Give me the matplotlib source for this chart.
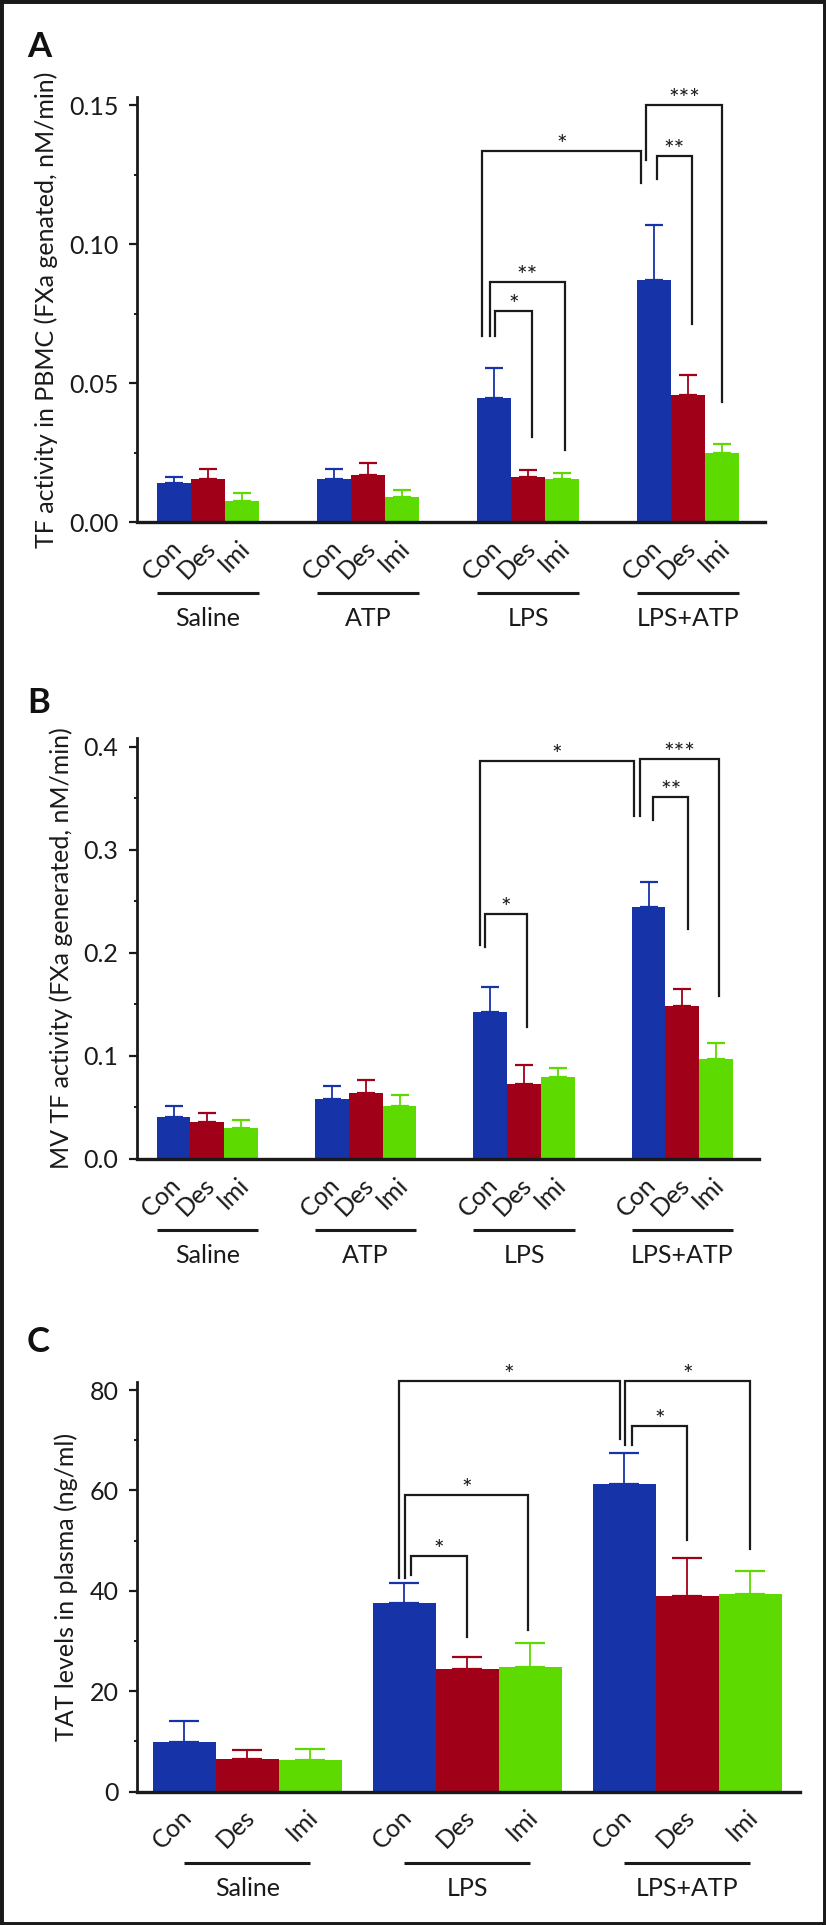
import numpy as np
import matplotlib.pyplot as plt
from matplotlib import transforms
from matplotlib.patches import Rectangle

plt.rcParams['font.family'] = ['Lato', 'DejaVu Sans']
plt.rcParams['text.color'] = '#1a1a1a'

# ---- data ----
treatments = ["Con", "Des", "Imi"]
bar_colors = ["#1634A8", "#A10019", "#5DDB00"]

groups_ab = ["Saline", "ATP", "LPS", "LPS+ATP"]
groups_c = ["Saline", "LPS", "LPS+ATP"]

# A: TF activity in PBMC (mean, upper SEM)
tf_mean = [[0.0141, 0.0153, 0.0077],
           [0.0156, 0.0170, 0.0089],
           [0.0447, 0.0162, 0.0154],
           [0.0871, 0.0457, 0.0249]]
tf_sem = [[0.0022, 0.0037, 0.0028],
          [0.0035, 0.0041, 0.0026],
          [0.0107, 0.0024, 0.0023],
          [0.0196, 0.0072, 0.0031]]

# B: MV TF activity
mv_mean = [[0.0405, 0.0362, 0.0304],
           [0.0579, 0.0641, 0.0515],
           [0.1430, 0.0728, 0.0799],
           [0.2450, 0.1485, 0.0974]]
mv_sem = [[0.0113, 0.0088, 0.0071],
          [0.0126, 0.0130, 0.0102],
          [0.0237, 0.0185, 0.0084],
          [0.0236, 0.0169, 0.0155]]

# C: TAT levels in plasma
tat_mean = [[9.9, 6.5, 6.2],
            [37.6, 24.4, 24.8],
            [61.3, 39.0, 39.4]]
tat_sem = [[4.15, 1.75, 2.25],
           [3.9, 2.4, 4.8],
           [6.1, 7.6, 4.5]]

# significance brackets: label, (group, bar, shift), y left end, (group, bar, shift), y right end, y top
sig_a = [("*",   (2, 0, 0.03), 0.0669, (2, 1, 0.11), 0.0305, 0.0759),
         ("**",  (2, 0, -0.12), 0.0669, (2, 2, 0.09), 0.0258, 0.0865),
         ("*",   (2, 0, -0.34), 0.0669, (3, 0, -0.38), 0.1220, 0.1336),
         ("**",  (3, 0, 0.08), 0.1234, (3, 1, 0.11), 0.0713, 0.1316),
         ("***", (3, 0, -0.24), 0.1304, (3, 2, 0.0), 0.0433, 0.1502)]
sig_b = [("*",   (2, 0, -0.15), 0.2060, (2, 1, 0.10), 0.1285, 0.2376),
         ("*",   (2, 0, -0.30), 0.2078, (3, 0, -0.44), 0.3333, 0.3867),
         ("***", (3, 0, -0.25), 0.3333, (3, 2, 0.07), 0.1586, 0.3883),
         ("**",  (3, 0, 0.13), 0.3291, (3, 1, 0.18), 0.2233, 0.3512)]
sig_c = [("*", (1, 0, 0.10), 43.1, (1, 1, 0.0), 30.8, 46.9),
         ("*", (1, 0, 0.02), 42.5, (1, 2, -0.03), 32.2, 59.1),
         ("*", (1, 0, -0.09), 42.5, (2, 0, -0.07), 70.2, 81.7),
         ("*", (2, 0, 0.02), 69.0, (2, 2, 0.0), 48.3, 81.7),
         ("*", (2, 0, 0.12), 69.0, (2, 1, 0.0), 50.1, 72.8)]

W, H = 826, 1925
fig = plt.figure(figsize=(W / 100, H / 100), dpi=100)
ink = '#1a1a1a'


def panel(rect, groups, means, sems, sigs, spacing, xlim, ylim, major, minor,
          ylabel, letter, letter_y, capsize, line_full):
    ax = fig.add_axes([rect[0] / W, 1 - rect[3] / H, (rect[2] - rect[0]) / W, (rect[3] - rect[1]) / H])
    centers = [g * spacing for g in range(len(groups))]
    for b in range(3):
        xs = [c + (b - 1) for c in centers]
        vals = [m[b] for m in means]
        errs = [s[b] for s in sems]
        ax.bar(xs, vals, width=1.0, color=bar_colors[b], edgecolor='none', zorder=2)
        ax.errorbar(xs, vals, yerr=[np.zeros(len(vals)), errs], fmt='none',
                    ecolor=bar_colors[b], elinewidth=1.3, capsize=capsize,
                    capthick=1.6, zorder=3)

    # brackets
    star_tr = transforms.offset_copy(ax.transData, fig=fig, y=-2, units='dots')
    for lab, (g1, b1, d1), y1, (g2, b2, d2), y2, top in sigs:
        x1 = centers[g1] + b1 - 1 + d1
        x2 = centers[g2] + b2 - 1 + d2
        ax.plot([x1, x1, x2, x2], [y1, top, top, y2], color=ink, lw=1.6,
                solid_joinstyle='miter', clip_on=False, zorder=4)
        ax.text((x1 + x2) / 2, top, lab, transform=star_tr, ha='center',
                va='baseline', fontsize=18, color=ink, clip_on=False)

    ax.set_xlim(*xlim)
    ax.set_ylim(*ylim)
    ax.set_xticks([])
    ax.set_yticks(major)
    ax.set_yticks(minor, minor=True)
    ax.tick_params(axis='y', which='major', length=5.8, width=1.6, pad=7.5,
                   labelsize=18, colors=ink)
    ax.tick_params(axis='y', which='minor', length=2.4, width=1.4, colors=ink)
    for s in ['top', 'right']:
        ax.spines[s].set_visible(False)
    ax.spines['left'].set_linewidth(2.0)
    ax.spines['bottom'].set_linewidth(2.4)
    ax.spines['left'].set_color(ink)
    ax.spines['bottom'].set_color(ink)
    ax.set_ylabel(ylabel, fontsize=18, labelpad=8, color=ink)

    cat_tr = transforms.offset_copy(ax.transData, fig=fig, x=4, y=-22, units='dots')
    line_tr = transforms.offset_copy(ax.transData, fig=fig, y=-71, units='dots')
    name_tr = transforms.offset_copy(ax.transData, fig=fig, y=-104, units='dots')
    for c, gname in zip(centers, groups):
        for b, t in enumerate(treatments):
            ax.text(c + (b - 1), 0, t, transform=cat_tr, rotation=45,
                    rotation_mode='anchor', ha='right', va='center',
                    fontsize=18, color=ink, clip_on=False)
        half = 1.5 if line_full else 1.0
        ax.plot([c - half, c + half], [0, 0], color=ink, lw=2.2,
                transform=line_tr, clip_on=False, solid_capstyle='butt')
        ax.text(c, 0, gname, transform=name_tr, ha='center', va='baseline',
                fontsize=18, color=ink, clip_on=False)

    fig.text(27 / W, 1 - letter_y / H, letter, fontsize=25, fontweight='bold',
             ha='left', va='baseline', color='#111111')
    return ax


panel((137, 97, 765, 522), groups_ab, tf_mean, tf_sem, sig_a, 4.68,
      (-2.08, 16.29), (0, 0.1529), [0, 0.05, 0.10, 0.15], [0.025, 0.075, 0.125],
      "TF activity in PBMC (FXa genated, nM/min)", "A", 57, 6.4, True)
ax_b = panel((137, 738, 758.5, 1159), groups_ab, mv_mean, mv_sem, sig_b, 4.68,
             (-2.08, 16.29), (0, 0.4087), [0, 0.1, 0.2, 0.3, 0.4],
             [0.05, 0.15, 0.25, 0.35],
             "MV TF activity (FXa generated, nM/min)", "B", 713, 6.4, True)
ax_b.yaxis.set_major_formatter(plt.FuncFormatter(lambda v, p: f"{v:.1f}"))
panel((137, 1382, 800, 1791.5), groups_c, tat_mean, tat_sem, sig_c, 3.49,
      (-1.75, 8.77), (0, 81.6), [0, 20, 40, 60, 80], [10, 30, 50, 70],
      "TAT levels in plasma (ng/ml)", "C", 1352, 11, False)

fig.add_artist(Rectangle((0, 0), 1, 1, transform=fig.transFigure, fill=False,
                         lw=5, ec='#1a1a1a'))

fig.savefig("out.png", dpi=100)
